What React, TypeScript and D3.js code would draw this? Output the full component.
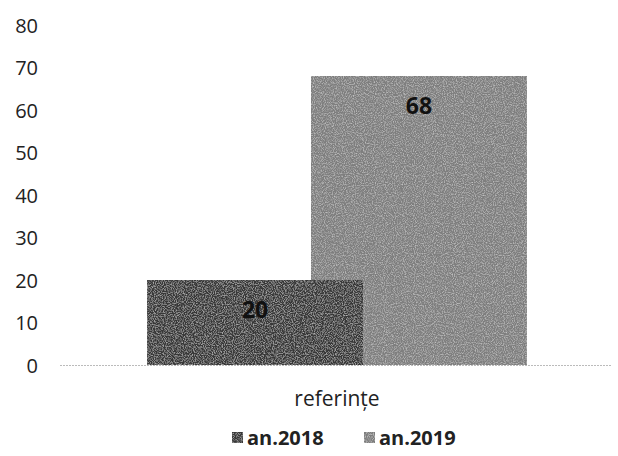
import React from "react";
import * as d3 from "d3";

const categories = ["referințe"];
const seriesNames = ["an.2018", "an.2019"];
const values2018 = [20];
const values2019 = [68];
const yTicks = [0, 10, 20, 30, 40, 50, 60, 70, 80];

const W = 618;
const H = 456;
const fills = ["#383838", "#7e7e7e"];
const font = "'Open Sans', 'Liberation Sans', sans-serif";

export default function App() {
  const y = d3.scaleLinear().domain([0, 80]).range([365, 25]);
  const x = d3.scaleBand<string>().domain(categories).range([62, 612]).padding(0.183);
  const groupW = x.bandwidth();
  const barW = groupW * (216 / 380);
  const step = groupW - barW;
  const seriesVals = [values2018, values2019];
  // draw later series first so the first series sits on top where they overlap
  const order = seriesVals.map((_, i) => i).reverse();

  return (
    <svg width={W} height={H} style={{ position: "absolute", left: 0, top: 0, background: "#fff" }}>
      <defs>
        <filter id="grain" x="0" y="0" width="100%" height="100%">
          <feTurbulence type="fractalNoise" baseFrequency="0.9" numOctaves="2" seed="3" result="n" />
          <feColorMatrix in="n" type="matrix" values="0 0 0 0 1  0 0 0 0 1  0 0 0 0 1  0 0 0 0.9 -0.38" result="w" />
          <feComposite in="w" in2="SourceGraphic" operator="in" result="wm" />
          <feMerge>
            <feMergeNode in="SourceGraphic" />
            <feMergeNode in="wm" />
          </feMerge>
        </filter>
      </defs>
      {yTicks.map((t) => (
        <text key={t} x={38} y={y(t)} textAnchor="end" dominantBaseline="central" fontFamily={font} fontSize={20} fill="#222">
          {t}
        </text>
      ))}
      {categories.map((c, ci) =>
        order.map((si) => {
          const vals = seriesVals[si];
          const x0 = (x(c) as number) + si * step;
          const v = vals[ci];
          return (
            <rect key={c + si} x={x0} y={y(v)} width={barW} height={y(0) - y(v)} fill={fills[si]} filter="url(#grain)" />
          );
        })
      )}
      {categories.map((c, ci) =>
        seriesVals.map((vals, si) => {
          const x0 = (x(c) as number) + si * step;
          const v = vals[ci];
          return (
            <text key={"l" + c + si} x={x0 + barW / 2} y={y(v) + 29} textAnchor="middle" dominantBaseline="central" fontFamily={font} fontWeight="bold" fontSize={23} fill="#111">
              {v}
            </text>
          );
        })
      )}
      <line x1={60} x2={612} y1={y(0) + 0.5} y2={y(0) + 0.5} stroke="#bbb" strokeWidth={1} strokeDasharray="2 1" />
      {categories.map((c) => (
        <text key={"c" + c} x={(x(c) as number) + groupW / 2} y={398} textAnchor="middle" dominantBaseline="central" fontFamily={font} fontSize={21} fill="#222">
          {c}
        </text>
      ))}
      {seriesNames.map((s, i) => {
        const lx = [232, 364][i];
        return (
          <g key={s}>
            <rect x={lx} y={432} width={11} height={11} fill={fills[i]} filter="url(#grain)" />
            <text x={lx + 15} y={437} dominantBaseline="central" fontFamily={font} fontWeight="bold" fontSize={20} fill="#222">
              {s}
            </text>
          </g>
        );
      })}
    </svg>
  );
}
